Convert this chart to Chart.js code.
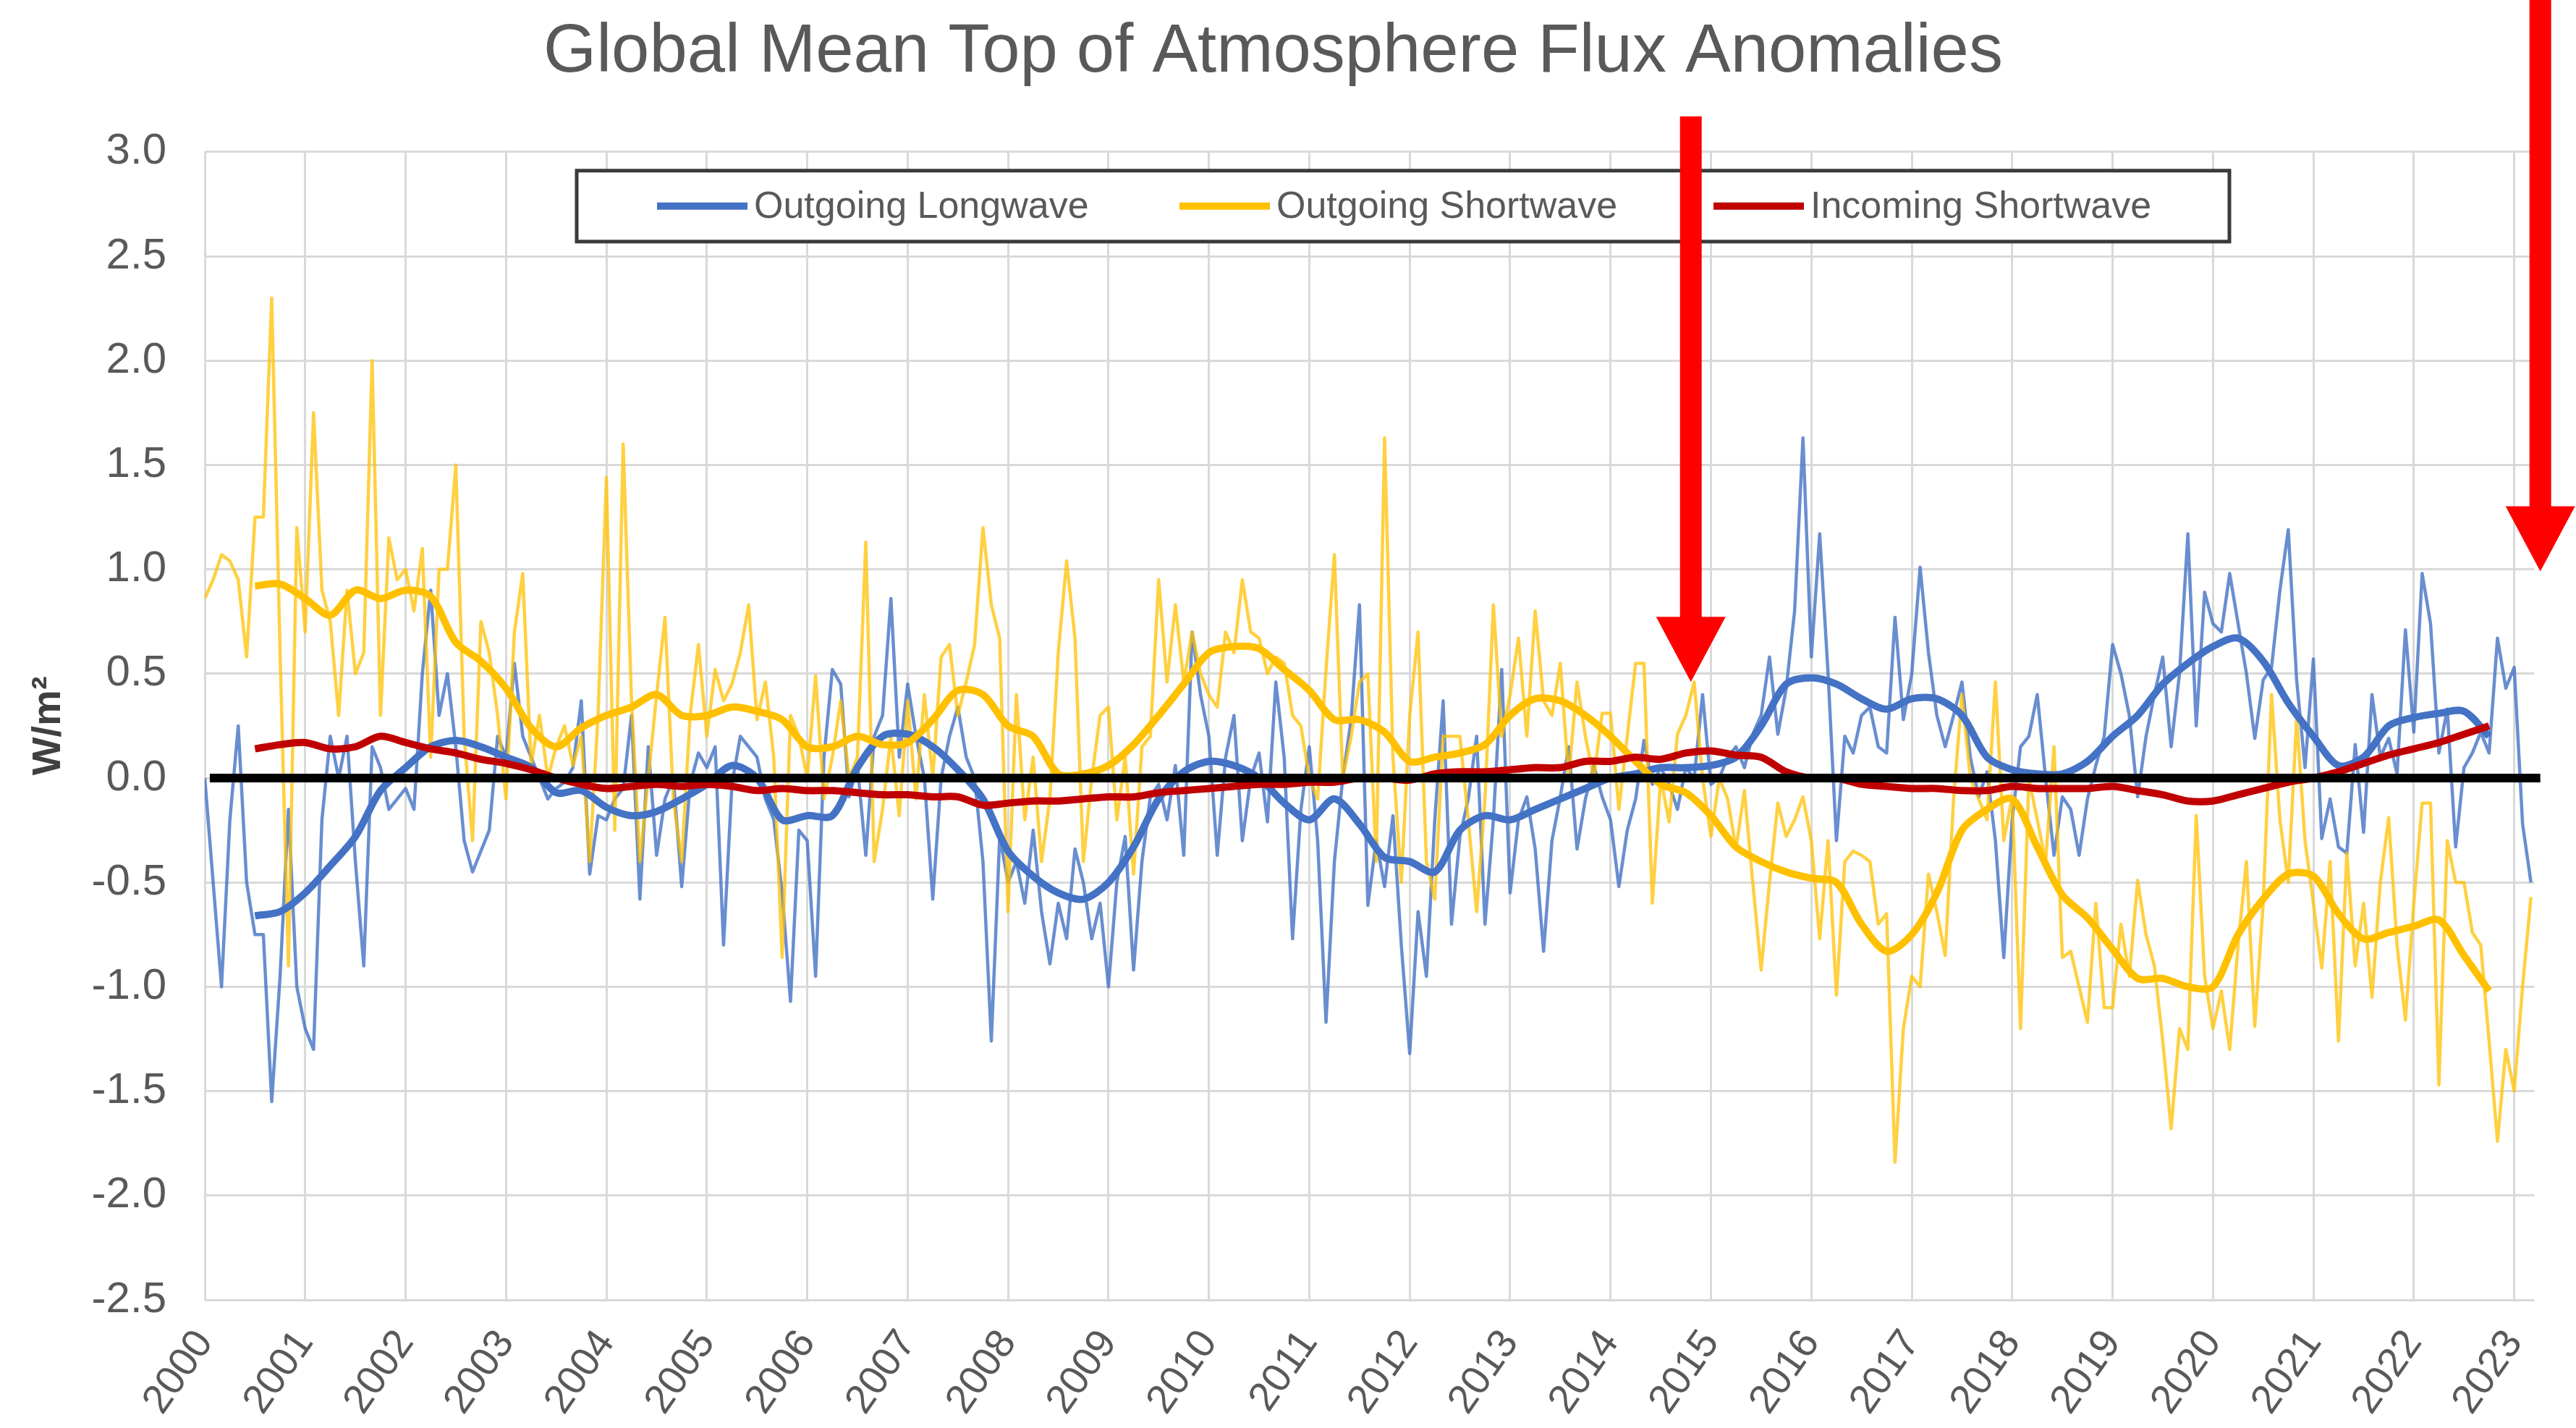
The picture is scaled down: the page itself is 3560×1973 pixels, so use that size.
<!DOCTYPE html>
<html>
<head>
<meta charset="utf-8">
<title>Global Mean Top of Atmosphere Flux Anomalies</title>
<script src="https://cdn.jsdelivr.net/npm/chart.js@4.4.1/dist/chart.umd.min.js"></script>
<style>
    html, body { margin: 0; padding: 0; background: #fff; }
    #wrap { width: 3560px; height: 1973px; }
</style>
</head>
<body>
<div id="wrap"><canvas id="fluxChart" width="3560" height="1973"></canvas></div>
<script>
// 轴刻度
const yearLabels = ['2000', '2001', '2002', '2003', '2004', '2005', '2006', '2007', '2008', '2009', '2010', '2011',
    '2012', '2013', '2014', '2015', '2016', '2017', '2018', '2019', '2020', '2021', '2022', '2023'];
const fluxTicks = [-2.5, -2.0, -1.5, -1.0, -0.5, 0.0, 0.5, 1.0, 1.5, 2.0, 2.5, 3.0];

// monthly anomalies, first value sits on the "2000" gridline
const firstYear = 2000;
const olrMonthly = [
    0.0, -0.5, -1.0, -0.2, 0.25, -0.5, -0.75, -0.75, -1.55, -0.95, -0.15, -1.0,
    -1.2, -1.3, -0.2, 0.2, 0.0, 0.2, -0.4, -0.9, 0.15, 0.05, -0.15, -0.1,
    -0.05, -0.15, 0.5, 0.9, 0.3, 0.5, 0.15, -0.3, -0.45, -0.35, -0.25, 0.2,
    0.1, 0.55, 0.2, 0.1, 0.0, -0.1, -0.05, -0.02, 0.05, 0.37, -0.46, -0.18,
    -0.2, -0.1, -0.05, 0.3, -0.58, 0.15, -0.37, -0.1, 0.0, -0.52, -0.03, 0.12,
    0.05, 0.15, -0.8, -0.03, 0.2, 0.15, 0.1, -0.1, -0.2, -0.55, -1.07, -0.25,
    -0.3, -0.95, 0.1, 0.52, 0.45, -0.09, 0.06, -0.37, 0.2, 0.3, 0.86, 0.1,
    0.45, 0.2, 0.0, -0.58, 0.0, 0.2, 0.34, 0.1, 0.0, -0.4, -1.26, -0.28,
    -0.5, -0.4, -0.6, -0.25, -0.64, -0.89, -0.6, -0.77, -0.34, -0.5, -0.77, -0.6,
    -1.0, -0.5, -0.28, -0.92, -0.4, -0.09, -0.03, -0.2, 0.06, -0.37, 0.7, 0.4,
    0.2, -0.37, 0.1, 0.3, -0.3, 0.0, 0.12, -0.21, 0.46, 0.1, -0.77, -0.15,
    0.15, -0.3, -1.17, -0.4, 0.0, 0.28, 0.83, -0.61, -0.3, -0.52, -0.18, -0.8,
    -1.32, -0.64, -0.95, -0.2, 0.37, -0.7, -0.28, -0.1, 0.2, -0.7, -0.2, 0.52,
    -0.55, -0.2, -0.09, -0.34, -0.83, -0.3, -0.09, 0.15, -0.34, -0.1, 0.06, -0.09,
    -0.2, -0.52, -0.25, -0.1, 0.18, -0.03, 0.05, -0.03, -0.15, 0.05, 0.0, 0.4,
    -0.03, 0.0, 0.1, 0.15, 0.05, 0.21, 0.3, 0.58, 0.21, 0.43, 0.8, 1.63,
    0.58, 1.17, 0.5, -0.3, 0.2, 0.12, 0.3, 0.34, 0.15, 0.12, 0.77, 0.28,
    0.5, 1.01, 0.6, 0.3, 0.15, 0.3, 0.46, 0.1, -0.09, 0.03, -0.3, -0.86,
    -0.2, 0.15, 0.2, 0.4, 0.0, -0.37, -0.09, -0.15, -0.37, -0.1, 0.06, 0.2,
    0.64, 0.5, 0.3, -0.09, 0.2, 0.4, 0.58, 0.15, 0.5, 1.17, 0.25, 0.89,
    0.74, 0.7, 0.98, 0.74, 0.5, 0.19, 0.47, 0.53, 0.9, 1.19, 0.47, 0.05,
    0.57, -0.29, -0.1, -0.33, -0.36, 0.16, -0.26, 0.4, 0.1, 0.19, 0.02, 0.71,
    0.22, 0.98, 0.74, 0.12, 0.33, -0.33, 0.05, 0.12, 0.22, 0.12, 0.67, 0.43,
    0.53, -0.22, -0.5
];
const oswMonthly = [
    0.86, 0.95, 1.07, 1.04, 0.95, 0.58, 1.25, 1.25, 2.3, 0.6, -0.9, 1.2,
    0.7, 1.75, 0.9, 0.75, 0.3, 0.9, 0.5, 0.6, 2.0, 0.3, 1.15, 0.95,
    1.0, 0.8, 1.1, 0.1, 1.0, 1.0, 1.5, 0.2, -0.3, 0.75, 0.6, 0.3,
    -0.1, 0.7, 0.98, 0.06, 0.3, 0.0, 0.15, 0.25, 0.06, 0.2, -0.4, 0.3,
    1.44, -0.25, 1.6, 0.37, -0.4, 0.0, 0.4, 0.77, -0.1, -0.4, 0.3, 0.64,
    0.2, 0.52, 0.37, 0.45, 0.6, 0.83, 0.28, 0.46, 0.1, -0.86, 0.3, 0.2,
    0.0, 0.49, -0.1, 0.1, 0.37, 0.0, 0.1, 1.13, -0.4, -0.15, 0.2, -0.18,
    0.37, -0.1, 0.4, 0.0, 0.58, 0.64, 0.3, 0.46, 0.64, 1.2, 0.83, 0.67,
    -0.64, 0.4, -0.2, 0.1, -0.4, -0.1, 0.6, 1.04, 0.67, -0.4, 0.0, 0.3,
    0.34, -0.2, 0.1, -0.46, 0.15, 0.2, 0.95, 0.46, 0.83, 0.46, 0.7, 0.5,
    0.4, 0.34, 0.7, 0.6, 0.95, 0.7, 0.67, 0.5, 0.58, 0.55, 0.3, 0.25,
    0.0, -0.1, 0.52, 1.07, 0.0, 0.2, 0.46, 0.5, -0.4, 1.63, 0.1, -0.5,
    0.3, 0.7, -0.4, -0.58, 0.2, 0.2, 0.2, -0.2, -0.64, -0.1, 0.83, 0.2,
    0.4, 0.67, 0.2, 0.8, 0.37, 0.3, 0.55, 0.0, 0.46, 0.2, 0.0, 0.31,
    0.31, -0.15, 0.2, 0.55, 0.55, -0.6, 0.0, -0.21, 0.21, 0.3, 0.46, 0.0,
    -0.28, 0.0, -0.1, -0.34, -0.06, -0.5, -0.92, -0.5, -0.12, -0.28, -0.2, -0.09,
    -0.3, -0.77, -0.3, -1.04, -0.4, -0.35, -0.37, -0.4, -0.7, -0.65, -1.84, -1.2,
    -0.95, -1.0, -0.46, -0.64, -0.85, -0.1, 0.4, 0.0, -0.1, -0.2, 0.46, -0.3,
    -0.09, -1.2, 0.0, -0.2, -0.4, 0.15, -0.86, -0.83, -1.0, -1.17, -0.6, -1.1,
    -1.1, -0.7, -0.95, -0.49, -0.75, -0.9, -1.26, -1.68, -1.2, -1.3, -0.18, -0.95,
    -1.2, -1.02, -1.3, -0.8, -0.4, -1.19, -0.6, 0.4, -0.2, -0.5, 0.29, -0.3,
    -0.6, -0.91, -0.4, -1.26, -0.36, -0.9, -0.6, -1.05, -0.5, -0.19, -0.8, -1.16,
    -0.6, -0.12, -0.12, -1.47, -0.3, -0.5, -0.5, -0.74, -0.8, -1.26, -1.74, -1.3,
    -1.5, -1.0, -0.57
];

// 12-month running means, read every 3rd month starting at month 6
const meanStart = 6;
const meanStep = 3;
const olrMean = [
    -0.66, -0.64, -0.55, -0.42, -0.28, -0.06, 0.05, 0.15, 0.18, 0.15,
    0.1, 0.05, -0.07, -0.06, -0.14, -0.18, -0.16, -0.1, -0.03, 0.06,
    0.0, -0.2, -0.18, -0.18, 0.05, 0.2, 0.21, 0.15, 0.04, -0.1,
    -0.35, -0.47, -0.55, -0.58, -0.5, -0.33, -0.1, 0.03, 0.08, 0.06,
    0.0, -0.12, -0.2, -0.1, -0.22, -0.38, -0.4, -0.45, -0.25, -0.18,
    -0.2, -0.15, -0.1, -0.05, 0.0, 0.02, 0.05, 0.05, 0.06, 0.1,
    0.25, 0.45, 0.48, 0.45, 0.38, 0.33, 0.38, 0.38, 0.3, 0.1,
    0.04, 0.02, 0.02, 0.08, 0.2, 0.3, 0.45, 0.55, 0.63, 0.67,
    0.56, 0.36, 0.2, 0.06, 0.1, 0.25, 0.29, 0.31, 0.32, 0.2
];
const oswMean = [
    0.92, 0.93, 0.86, 0.78, 0.9, 0.86, 0.9, 0.87, 0.65, 0.56,
    0.43, 0.24, 0.15, 0.24, 0.3, 0.34, 0.4, 0.3, 0.3, 0.34,
    0.32, 0.28, 0.15, 0.15, 0.2, 0.16, 0.17, 0.28, 0.42, 0.4,
    0.25, 0.2, 0.02, 0.02, 0.06, 0.16, 0.3, 0.45, 0.6, 0.63,
    0.62, 0.52, 0.42, 0.28, 0.28, 0.22, 0.08, 0.1, 0.12, 0.16,
    0.3, 0.38, 0.37, 0.3, 0.2, 0.08, -0.03, -0.07, -0.18, -0.33,
    -0.4, -0.45, -0.48, -0.5, -0.7, -0.83, -0.75, -0.55, -0.25, -0.15,
    -0.1, -0.33, -0.56, -0.67, -0.82, -0.96, -0.96, -1.0, -1.0, -0.75,
    -0.58, -0.46, -0.47, -0.65, -0.77, -0.74, -0.71, -0.68, -0.85, -1.02
];
const iswMean = [
    0.14, 0.16, 0.17, 0.14, 0.15, 0.2, 0.17, 0.14, 0.12, 0.09,
    0.07, 0.04, 0.0, -0.03, -0.05, -0.04, -0.03, -0.04, -0.03, -0.04,
    -0.06, -0.05, -0.06, -0.06, -0.07, -0.08, -0.08, -0.09, -0.09, -0.13,
    -0.12, -0.11, -0.11, -0.1, -0.09, -0.09, -0.07, -0.06, -0.05, -0.04,
    -0.03, -0.03, -0.02, -0.02, 0.0, 0.0, -0.01, 0.02, 0.03, 0.03,
    0.04, 0.05, 0.05, 0.08, 0.08, 0.1, 0.09, 0.12, 0.13, 0.11,
    0.1, 0.03, 0.0, 0.0, -0.03, -0.04, -0.05, -0.05, -0.06, -0.06,
    -0.04, -0.05, -0.05, -0.05, -0.04, -0.06, -0.08, -0.11, -0.11, -0.08,
    -0.05, -0.02, 0.0, 0.03, 0.07, 0.11, 0.14, 0.17, 0.21, 0.25
];

const seriesNames = ['Outgoing Longwave', 'Outgoing Shortwave', 'Incoming Shortwave'];

// red arrows drawn on top (x in years, tip/top in W/m2, top null = edge of canvas)
const arrowMarks = [
    { x: 2014.8, tip: 0.46, top: 3.17 },
    { x: 2023.26, tip: 0.99, top: null }
];

const FONT = '"Liberation Sans", Arial, sans-serif';
const BLUE = '#4472c4';
const GOLD = '#ffc000';
const RED = '#c00000';

const monthly = (vals) => vals.map((v, i) => ({ x: firstYear + i / 12, y: v }));
const running = (vals) => vals.map((v, i) => ({ x: firstYear + (meanStart + i * meanStep) / 12, y: v }));

// 带边框的图例，画在绘图区里
const boxLegend = {
    id: 'boxLegend',
    afterDatasetsDraw(chart, args, opts) {
        const { ctx, chartArea } = chart;
        const left = chartArea.left + 514;
        const top = chartArea.top + 26;
        const w = 2284, h = 98;
        ctx.save();
        ctx.fillStyle = '#ffffff';
        ctx.fillRect(left, top, w, h);
        ctx.strokeStyle = '#3a3a3a';
        ctx.lineWidth = 5;
        ctx.strokeRect(left, top, w, h);
        const cy = top + h / 2;
        ctx.font = '52px ' + FONT;
        ctx.textBaseline = 'middle';
        ctx.fillStyle = '#595959';
        opts.items.forEach(item => {
            ctx.strokeStyle = item.color;
            ctx.lineWidth = 10;
            ctx.beginPath();
            ctx.moveTo(left + item.at, cy);
            ctx.lineTo(left + item.at + 125, cy);
            ctx.stroke();
            ctx.fillText(item.text, left + item.at + 134, cy + 2);
        });
        ctx.restore();
    }
};

const arrows = {
    id: 'arrows',
    afterDraw(chart, args, opts) {
        const { ctx } = chart;
        const xs = chart.scales.x, ys = chart.scales.y;
        ctx.save();
        ctx.fillStyle = '#ff0000';
        opts.marks.forEach(a => {
            const cx = xs.getPixelForValue(a.x);
            const tipY = ys.getPixelForValue(a.tip);
            const topY = a.top === null ? 0 : ys.getPixelForValue(a.top);
            const headH = 90, headW = 96, shaft = 30;
            ctx.fillRect(cx - shaft / 2, topY, shaft, tipY - headH - topY + 2);
            ctx.beginPath();
            ctx.moveTo(cx - headW / 2, tipY - headH);
            ctx.lineTo(cx + headW / 2, tipY - headH);
            ctx.lineTo(cx, tipY);
            ctx.closePath();
            ctx.fill();
        });
        ctx.restore();
    }
};

document.addEventListener('DOMContentLoaded', () => {
    const ctx = document.getElementById('fluxChart').getContext('2d');
    Chart.defaults.font.family = FONT;

    new Chart(ctx, {
        type: 'line',
        data: {
            datasets: [
                {
                    label: 'zero',
                    data: [{ x: 2000.05, y: 0 }, { x: 2023.26, y: 0 }],
                    borderColor: '#000000',
                    borderWidth: 12,
                    clip: false
                },
                {
                    label: seriesNames[2],
                    data: running(iswMean),
                    borderColor: RED,
                    borderWidth: 10,
                    tension: 0.3
                },
                {
                    label: seriesNames[1],
                    data: running(oswMean),
                    borderColor: GOLD,
                    borderWidth: 10,
                    tension: 0.3
                },
                {
                    label: seriesNames[0],
                    data: running(olrMean),
                    borderColor: BLUE,
                    borderWidth: 10,
                    tension: 0.3
                },
                {
                    label: seriesNames[1] + ' monthly',
                    data: monthly(oswMonthly),
                    borderColor: 'rgba(255, 192, 0, 0.75)',
                    borderWidth: 4.5
                },
                {
                    label: seriesNames[0] + ' monthly',
                    data: monthly(olrMonthly),
                    borderColor: 'rgba(68, 114, 196, 0.8)',
                    borderWidth: 4.5
                }
            ]
        },
        options: {
            responsive: false,
            animation: false,
            devicePixelRatio: 1,
            layout: { padding: { left: 0, right: 41, top: 0, bottom: 0 } },
            elements: {
                point: { radius: 0 },
                line: { borderJoinStyle: 'round', borderCapStyle: 'butt', fill: false }
            },
            scales: {
                x: {
                    type: 'linear',
                    min: 2000,
                    max: 2023.2,
                    afterBuildTicks: s => { s.ticks = yearLabels.map(v => ({ value: Number(v) })); },
                    afterFit: s => { s.height = 177; },
                    grid: { color: '#d9d9d9', lineWidth: 3, drawTicks: false },
                    border: { display: false },
                    ticks: {
                        autoSkip: false,
                        minRotation: 55,
                        maxRotation: 55,
                        padding: 30,
                        color: '#595959',
                        font: { size: 56 },
                        callback: (v, i) => yearLabels[i]
                    }
                },
                y: {
                    min: -2.5,
                    max: 3.0,
                    afterBuildTicks: s => { s.ticks = fluxTicks.map(v => ({ value: v })); },
                    afterFit: s => { s.width = 283; },
                    grid: { color: '#d9d9d9', lineWidth: 3, drawTicks: false },
                    border: { display: false },
                    ticks: {
                        padding: 53,
                        color: '#595959',
                        font: { size: 60 },
                        callback: v => v.toFixed(1)
                    },
                    title: {
                        display: true,
                        text: 'W/m²',
                        color: '#404040',
                        font: { size: 56, weight: 'bold' },
                        padding: { top: 34, bottom: 0 }
                    }
                }
            },
            plugins: {
                legend: { display: false },
                tooltip: { enabled: false },
                title: {
                    display: true,
                    text: 'Global Mean Top of Atmosphere Flux Anomalies',
                    color: '#595959',
                    font: { size: 94, weight: 'normal' },
                    padding: { top: 17, bottom: 80 }
                },
                boxLegend: {
                    items: [
                        { text: seriesNames[0], color: BLUE, at: 111 },
                        { text: seriesNames[1], color: GOLD, at: 833 },
                        { text: seriesNames[2], color: RED, at: 1571 }
                    ]
                },
                arrows: { marks: arrowMarks }
            }
        },
        plugins: [boxLegend, arrows]
    });
});
</script>
</body>
</html>
